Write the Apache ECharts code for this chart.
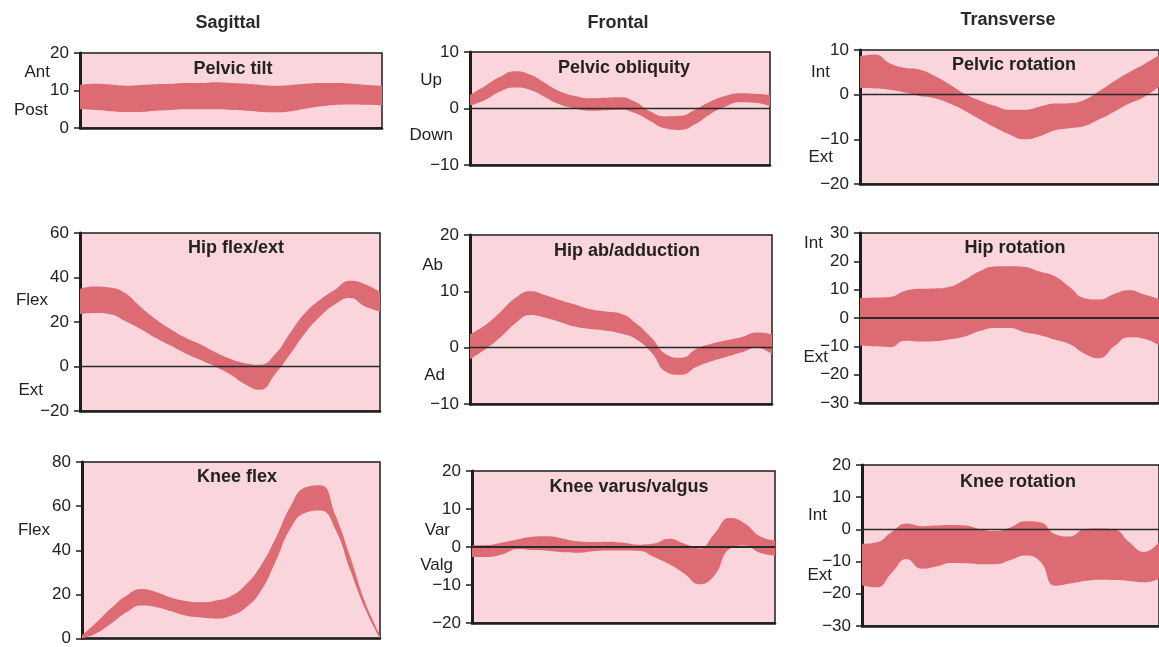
<!DOCTYPE html>
<html>
<head>
<meta charset="utf-8">
<script src="https://cdn.jsdelivr.net/npm/echarts@6/dist/echarts.min.js"></script>
<style>
html,body{margin:0;padding:0;background:#ffffff;}
#c{width:1159px;height:647px;}
</style>
</head>
<body>
<div id="c"></div>
<script>
// Gait cycle (%) sample positions
const gaitPct = [0,5,10,15,20,25,30,35,40,45,50,55,60,65,70,75,80,85,90,95,100];

// Column headers
const columnHeaders = ['Sagittal', 'Frontal', 'Transverse'];

// Normal band: upper and lower bounds (degrees)
const pelvicTiltUpper = [11.5,11.8,11.6,11.3,11.5,11.7,11.8,12,12,12.2,12,11.8,11.5,11.3,11.5,11.8,12,12,11.8,11.5,11.3];
const pelvicTiltLower = [5,4.8,4.5,4.3,4.3,4.6,4.8,5,5,5,4.8,4.6,4.3,4.2,4.5,5.2,5.8,6.2,6.3,6.2,6];

const pelvicObliquityUpper = [2.4,4,5.6,6.6,6,4.5,3,2.2,1.8,1.9,2,1.2,-0.5,-1.4,-1.3,-0.2,1.2,2.2,2.7,2.6,2.4];
const pelvicObliquityLower = [0.5,1.5,3,3.7,3.3,2,0.7,0,-0.4,-0.3,-0.2,-0.8,-2.2,-3.5,-3.8,-2.8,-1,0.3,1.1,1,0.4];

const pelvicRotationUpper = [8.6,9,7,6,5.6,4.2,2.3,0.2,-1.3,-2.5,-3.4,-3.4,-2.7,-2,-1.9,-1.2,0.8,3,5,6.8,8.8];
const pelvicRotationLower = [1.5,1.4,1.1,0.5,-0.3,-0.8,-2,-3.6,-5.5,-7.3,-8.9,-10,-9.3,-8,-7.5,-7,-5.5,-3.8,-2,-0.5,1.8];

const hipFlexUpper = [35,36,35.5,33,27,21.5,17,13,10,6.5,3.5,1.5,0.8,5.5,15,24,30,34.5,38.5,37,33.5];
const hipFlexLower = [23.5,24,23.5,20.5,17,13,9.5,6,3,0,-3.5,-8,-10.5,-3.5,5.5,15,22.5,28,30.8,27,24.8];

const hipAbductionUpper = [2.4,4,6.3,8.8,10,9.3,8.4,7.6,6.8,6.4,6,4.3,1.8,-1.2,-1.8,-0.2,0.7,1.3,1.9,2.7,2.4];
const hipAbductionLower = [-2.1,-0.3,1.8,4.3,5.8,5.3,4.5,3.7,3.3,3,2.5,1.5,-0.8,-4.3,-4.8,-3.4,-2.4,-1.6,-0.8,0,-1.2];

const hipRotationUpper = [7,7.2,7.4,9.5,10.3,10.4,11,13.5,16.5,18.2,18.3,18,16.4,14.8,11,7,6.5,8.5,9.8,8.3,6.8];
const hipRotationLower = [-9.7,-10,-10.3,-8,-8.3,-8.2,-7.5,-6.5,-4.6,-3.5,-3.5,-5,-6,-7.6,-9.2,-12.5,-14.2,-10,-6.8,-7.3,-9.7];

const kneeFlexUpper = [1.5,7.5,14,19.5,22.4,21,18.5,17,16.4,17.2,19.3,24.5,33,45.5,60,68.5,69.5,56,37,16.4,1.5];
const kneeFlexLower = [0,2.5,7,12,15,14.2,12.3,10.3,9.5,9,10.3,14,21.5,35,50,57,58,49.5,31,13.5,0];

const kneeVarusUpper = [0.4,0.5,1.2,2,2.7,2.8,2.2,1.5,1.3,1.4,1.1,0.6,0.9,2.2,0.9,-0.4,3.5,7.6,6.2,2.8,1.7];
const kneeVarusLower = [-2.6,-2.6,-1.9,-0.5,-0.8,-1,-1.4,-1.5,-1.1,-0.9,-0.9,-1,-2.6,-4.5,-7,-9.8,-7.5,-0.5,0.4,-1.5,-2.2];

const kneeRotationUpper = [-4.5,-4,-0.8,1.8,1,1.2,1.4,1.2,0,-0.5,0.6,2.5,2.2,-1.5,-2.2,0.1,0.3,0,-4,-7,-3.9];
const kneeRotationLower = [-17.4,-18,-13.5,-9.2,-12.2,-11.5,-10.4,-10.5,-10.8,-10.8,-9.5,-8.1,-10,-17.5,-16.8,-16,-15.6,-15.7,-16,-16.4,-15.3];

// Panel titles and direction labels
const panelTitles = ['Pelvic tilt','Pelvic obliquity','Pelvic rotation','Hip flex/ext','Hip ab/adduction','Hip rotation','Knee flex','Knee varus/valgus','Knee rotation'];
const directionLabels = [['Ant','Post'],['Up','Down'],['Int','Ext'],['Flex','Ext'],['Ab','Ad'],['Int','Ext'],['Flex'],['Var','Valg'],['Int','Ext']];

// Y-axis ranges [min, max, interval]
const yRanges = [[0,20,10],[-10,10,10],[-20,10,10],[-20,60,20],[-10,20,10],[-30,30,10],[0,80,20],[-20,20,10],[-30,20,10]];

const uppers = [pelvicTiltUpper,pelvicObliquityUpper,pelvicRotationUpper,hipFlexUpper,hipAbductionUpper,hipRotationUpper,kneeFlexUpper,kneeVarusUpper,kneeRotationUpper];
const lowers = [pelvicTiltLower,pelvicObliquityLower,pelvicRotationLower,hipFlexLower,hipAbductionLower,hipRotationLower,kneeFlexLower,kneeVarusLower,kneeRotationLower];

// ---- layout (pixels) ----
const boxes = [
  [80,53,302,75],[470,52,300,113],[860,50,300,134],
  [80,233,300,178],[470,235,302,169],[860,233,300,170],
  [82,462,298,178],[472,471,303,152],[862,465,300,161]
];
const titlePos = [[233,69],[624,68],[1014,65],[236,248],[627,251],[1015,248],[237,477],[629,487],[1018,482]];
const headerPos = [[228,23],[618,23],[1008,20]];
const sidePos = [
  [[50,72],[48,110]],[[442,80],[453,135]],[[830,72],[833,157]],
  [[48,300],[43,390]],[[443,265],[445,375]],[[823,243],[828,357]],
  [[50,530]],[[450,530],[453,565]],[[827,515],[832,575]]
];
const zeroWidth = [0,1.3,1.3,1.3,1.3,2,0,2,1.3];

const FONT = '"Liberation Sans", Arial, Helvetica, sans-serif';
const BAND = '#dc6b73';
const BG = '#fad5db';
const INK = '#1e1e1e';
const SMOOTH = 0.5;

const grids = [], xAxes = [], yAxes = [], series = [], graphics = [];

boxes.forEach((b, i) => {
  grids.push({left:b[0], top:b[1], width:b[2], height:b[3], show:true, backgroundColor:BG, borderColor:INK, borderWidth:1.5, containLabel:false});
  xAxes.push({type:'category', gridIndex:i, data:gaitPct, boundaryGap:false, axisLabel:{show:false}, axisTick:{show:false}, splitLine:{show:false},
    axisLine:{show:true, onZero:false, lineStyle:{color:INK, width:2.5}}});
  const r = yRanges[i];
  yAxes.push({type:'value', gridIndex:i, min:r[0], max:r[1], interval:r[2], splitLine:{show:false},
    axisLine:{show:true, onZero:false, lineStyle:{color:INK, width:3}},
    axisTick:{show:true, inside:false, length:6, lineStyle:{color:INK, width:1.5}},
    axisLabel:{fontSize:17, color:'#222', fontFamily:FONT, margin:11, formatter: v => String(v).replace('-', '\u2212')}});
  const lo = lowers[i], up = uppers[i];
  series.push({type:'line', xAxisIndex:i, yAxisIndex:i, stack:'band'+i, stackStrategy:'all', smooth:SMOOTH, symbol:'none', silent:true,
    lineStyle:{opacity:0}, data: lo.slice()});
  const s = {type:'line', xAxisIndex:i, yAxisIndex:i, stack:'band'+i, stackStrategy:'all', smooth:SMOOTH, symbol:'none', silent:true,
    lineStyle:{opacity:0}, areaStyle:{color:BAND, opacity:1}, data: up.map((u,k) => u - lo[k])};
  if (zeroWidth[i] > 0) {
    s.markLine = {silent:true, symbol:'none', animation:false, label:{show:false},
      lineStyle:{color:'#2a2a2a', width:zeroWidth[i], type:'solid'}, data:[{yAxis:0}]};
  }
  series.push(s);
  graphics.push({type:'text', x:titlePos[i][0], y:titlePos[i][1], z:100,
    style:{text:panelTitles[i], font:'bold 18px ' + FONT, fill:'#222', align:'center', verticalAlign:'middle', textAlign:'center', textVerticalAlign:'middle'}});
  directionLabels[i].forEach((t, j) => {
    const p = sidePos[i][j];
    graphics.push({type:'text', x:p[0], y:p[1], z:100,
      style:{text:t, font:'17px ' + FONT, fill:'#222', align:'right', verticalAlign:'middle', textAlign:'right', textVerticalAlign:'middle'}});
  });
});

columnHeaders.forEach((h, i) => {
  graphics.push({type:'text', x:headerPos[i][0], y:headerPos[i][1], z:100,
    style:{text:h, font:'bold 18px ' + FONT, fill:'#2a2a2a', align:'center', verticalAlign:'middle', textAlign:'center', textVerticalAlign:'middle'}});
});

const chart = echarts.init(document.getElementById('c'), null, {renderer:'canvas'});
chart.setOption({
  animation:false,
  backgroundColor:'#ffffff',
  grid:grids, xAxis:xAxes, yAxis:yAxes, series:series, graphic:graphics
});
</script>
</body>
</html>
